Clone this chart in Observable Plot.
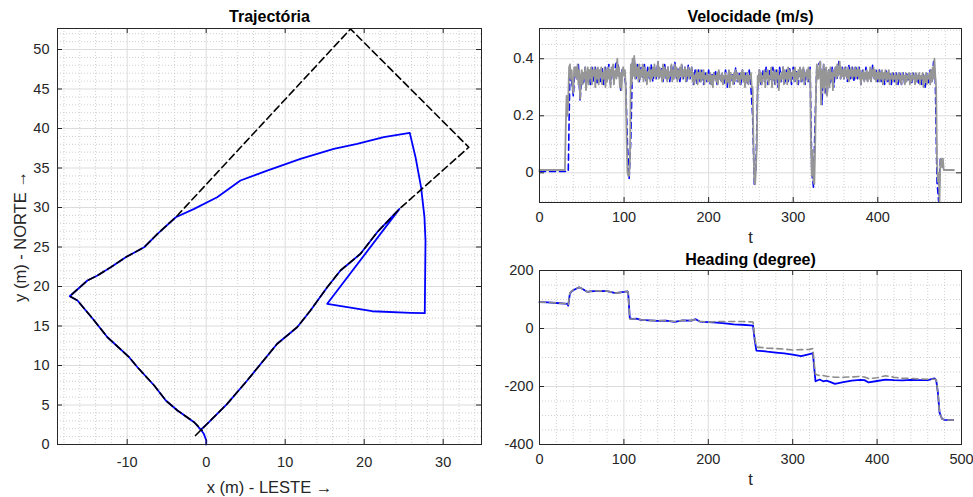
<!DOCTYPE html>
<html><head><meta charset="utf-8">
<script src="https://cdn.jsdelivr.net/npm/d3@7"></script>
<script src="https://cdn.jsdelivr.net/npm/@observablehq/plot@0.6"></script>
<style>
html,body{margin:0;padding:0;background:#fff;}
#wrap{position:relative;width:973px;height:497px;background:#fff;overflow:hidden;}
#wrap svg{position:absolute;}
</style></head>
<body><div id="wrap"></div>
<script>
// ---------- Trajectory (m) ----------
const trajBlueX = [0,0.02,-0.3,-0.72,-1.52,-3.63,-5.11,-6.58,-8.7,-9.75,-12.5,-14.18,-16.29,-17.27,-15.03,-13.76,-12.07,-10.18,-7.85,-6.16,-3.85,-1.52,1.39,4.34,7.72,11.94,16.15,19.11,22.48,25.77,26.5,27.2,27.63,27.76,27.67,25.86,21.01,15.32,24.47,21.65,19.53,17.0,15.32,13.2,11.52,8.99,5.19,2.66,0.13,-0.72];
const trajBlueY = [0,0.5,1.35,1.92,2.82,4.3,5.57,7.47,9.78,11.05,13.58,15.7,18.23,18.77,20.76,21.39,22.45,23.71,24.97,26.67,28.77,29.83,31.3,33.42,34.68,36.16,37.43,38.06,38.9,39.45,36.37,32.57,28.77,25.82,16.62,16.67,16.87,17.81,29.83,26.87,24.14,22.03,19.91,16.96,14.85,12.75,8.1,5.15,2.62,1.86];
const trajRefX = [-1.35,0.13,2.66,5.19,8.99,11.52,13.2,15.32,17.0,19.53,21.65,24.47,33.24,18.27,-3.85,-6.16,-7.85,-10.18,-12.07,-13.76,-15.03,-17.27,-16.29,-14.18,-12.5,-9.75,-8.7,-6.58,-5.11,-3.63,-1.52,-0.5];
const trajRefY = [1.14,2.62,5.15,8.1,12.75,14.85,16.96,19.91,22.03,24.14,26.87,29.83,37.63,52.6,28.77,26.67,24.97,23.71,22.45,21.39,20.76,18.77,18.23,15.7,13.58,11.05,9.78,7.47,5.57,4.3,2.82,1.8];

// ---------- Velocity (m/s) ----------
const velGrayStep = 1; // s
const velGray = [
.01,.01,.01,.01,.01,.01,.01,.01,.01,.01,
.01,.01,.01,.01,.01,.01,.01,.01,.01,.01,
.01,.01,.01,.01,.01,.01,.01,.01,.01,.01,
.01,.15,.27,.20,.26,.37,.38,.33,.36,.30,
.28,.37,.34,.37,.33,.38,.31,.36,.26,.33,
.36,.31,.35,.33,.37,.29,.34,.37,.31,.36,
.33,.37,.31,.36,.34,.37,.30,.36,.33,.37,
.31,.36,.34,.37,.31,.35,.33,.37,.30,.36,
.32,.37,.33,.36,.30,.37,.34,.38,.31,.35,
.36,.33,.40,.34,.37,.30,.35,.29,.36,.37,
.34,.36,.30,.12,.00,-.01,-.01,.05,.38,.31,
.40,.34,.41,.33,.38,.34,.37,.32,.38,.33,
.36,.34,.38,.32,.37,.33,.36,.31,.35,.34,
.37,.32,.36,.33,.37,.34,.38,.33,.36,.34,
.39,.33,.37,.34,.36,.32,.38,.33,.37,.34,
.36,.32,.37,.33,.35,.34,.38,.32,.36,.33,
.38,.34,.37,.32,.36,.33,.37,.34,.38,.33,
.36,.34,.37,.32,.36,.34,.37,.33,.36,.34,
.37,.32,.35,.31,.34,.33,.36,.31,.35,.33,
.36,.32,.35,.33,.36,.31,.34,.33,.35,.32,
.34,.32,.35,.31,.34,.30,.35,.33,.34,.32,
.35,.31,.36,.33,.34,.32,.35,.31,.34,.33,
.35,.31,.34,.32,.36,.30,.35,.33,.34,.31,
.35,.32,.36,.33,.35,.32,.34,.31,.35,.33,
.36,.32,.35,.30,.34,.32,.35,.31,.34,.33,
.35,.30,.30,.10,-.03,-.04,.02,.10,.34,.31,
.36,.32,.35,.31,.34,.33,.36,.30,.35,.33,
.36,.31,.34,.33,.37,.30,.35,.33,.36,.31,
.35,.33,.36,.29,.34,.32,.35,.33,.37,.31,
.36,.33,.35,.31,.37,.33,.36,.32,.35,.34,
.36,.32,.37,.33,.35,.31,.36,.34,.37,.32,
.36,.33,.37,.31,.35,.34,.36,.32,.37,.33,
.36,.10,-.01,.08,-.03,-.04,.10,.30,.38,.33,
.33,.38,.39,.24,.36,.30,.38,.28,.35,.37,
.27,.33,.36,.30,.37,.33,.35,.29,.36,.34,
.37,.33,.38,.34,.36,.39,.33,.37,.34,.36,
.33,.37,.34,.36,.33,.37,.32,.36,.34,.37,
.33,.36,.34,.37,.33,.36,.34,.37,.33,.36,
.31,.35,.33,.36,.32,.35,.33,.36,.32,.35,
.33,.37,.32,.36,.34,.37,.33,.36,.32,.35,
.33,.36,.32,.35,.33,.36,.31,.35,.33,.36,
.32,.35,.33,.36,.31,.34,.33,.35,.32,.34,
.33,.35,.31,.34,.33,.35,.32,.34,.31,.35,
.33,.34,.31,.35,.32,.34,.33,.35,.31,.34,
.32,.35,.33,.34,.31,.35,.32,.34,.33,.35,
.31,.34,.33,.35,.30,.34,.32,.35,.31,.34,
.33,.35,.31,.36,.32,.37,.33,.40,.34,.30,
.05,-.03,.00,-.10,.04,.05,.02,.05,.01,.01,
.01,.01,.01,.01,.01,.01,.01,.01,.01,.01,.01];
const velBlueStep = 2; // s
const velBlue = [
.005,.005,.005,.005,.005,.005,.005,.005,.005,.005,
.005,.005,.005,.005,.005,.005,.005,.005,.36,.32,
.27,.37,.33,.38,.25,.35,.31,.37,.32,.36,
.31,.37,.32,.37,.31,.36,.32,.37,.31,.37,
.32,.38,.31,.37,.32,.38,.39,.36,.29,.37,
.35,.31,.10,-.02,.12,.39,.40,.33,.38,.32,
.37,.33,.38,.32,.37,.33,.38,.32,.37,.33,
.39,.33,.37,.32,.38,.33,.37,.32,.38,.33,
.39,.33,.37,.32,.38,.33,.37,.32,.38,.33,
.37,.31,.36,.31,.36,.32,.36,.31,.35,.32,
.36,.31,.35,.32,.36,.31,.36,.32,.35,.31,
.36,.30,.36,.32,.35,.31,.37,.32,.35,.31,
.36,.32,.35,.31,.36,.30,.20,-.04,.02,.30,
.36,.31,.36,.32,.37,.31,.36,.32,.37,.31,
.36,.30,.37,.32,.37,.31,.36,.32,.37,.31,
.37,.32,.36,.31,.37,.32,.37,.31,.36,.32,
.37,.00,-.05,.20,.38,.38,.39,.24,.38,.29,
.27,.36,.31,.37,.30,.37,.33,.39,.33,.37,
.33,.37,.32,.38,.33,.37,.32,.37,.33,.37,
.31,.36,.32,.37,.32,.36,.32,.38,.33,.36,
.32,.36,.32,.35,.31,.36,.32,.35,.31,.35,
.32,.35,.31,.35,.31,.35,.31,.35,.32,.35,
.31,.35,.32,.35,.31,.34,.31,.35,.30,.35,
.31,.36,.32,.39,.33,-.03,-.10,.05,.04,.01,
.01,.01,.01,.01,.01,.01];

// ---------- Heading (degree) ----------
const headT    = [0,10,20,30,33,34,36,38,40,44,47,50,54,57,60,70,80,90,100,104,105,107,110,115,120,130,140,150,160,170,180,185,190,200,210,220,230,240,250,253,255,257,265,270,280,290,300,310,320,324,325,327,332,336,340,345,350,360,370,380,385,390,400,410,420,430,440,450,460,468,470,472,474,477,480,490];
const headBlue = [91,90,88,86,85,79,120,128,132,138,142,138,131,126,128,130,129,122,126,128,125,35,33,34,30,28,26,27,23,28,27,32,24,22,20,18,14,13,11,10,-40,-76,-78,-80,-83,-86,-90,-95,-88,-85,-120,-182,-176,-182,-180,-185,-191,-185,-180,-177,-178,-186,-181,-176,-178,-179,-177,-178,-178,-172,-178,-220,-290,-312,-315,-316];
const headGray = [91,90,88,86,85,81,122,129,133,138,142,138,131,126,128,130,129,122,126,128,125,33,33,34,30,28,27,27,24,28,28,31,25,22,24,24,24,24,23,22,-30,-64,-66,-68,-69,-71,-74,-73,-72,-69,-110,-158,-163,-162,-165,-166,-168,-168,-167,-165,-167,-173,-170,-163,-168,-172,-172,-174,-175,-175,-177,-220,-290,-312,-315,-316];

// ---------- ticks ----------
const trajXTicks = [-10,0,10,20,30];
const trajYTicks = [0,5,10,15,20,25,30,35,40,45,50];
const velXTicks = [0,100,200,300,400];
const velYTicks = [0,0.2,0.4];
const headXTicks = [0,100,200,300,400,500];
const headYTicks = [-400,-200,0,200];

const FONT = "'Liberation Sans', Arial, Helvetica, sans-serif";
const AX = "#262626";

function panel(o) {
  const fw = o.width - o.ml - o.mr, fh = o.height - o.mt - o.mb;
  const fmt = d => String(d);
  const marks = [
    Plot.ruleX(o.xMinor, {stroke: "#c4c4c4", strokeWidth: 0.8, strokeDasharray: "1,2"}),
    Plot.ruleY(o.yMinor, {stroke: "#c4c4c4", strokeWidth: 0.8, strokeDasharray: "1,2"}),
    Plot.ruleX(o.xTicks, {stroke: "#dcdcdc", strokeWidth: 1}),
    Plot.ruleY(o.yTicks, {stroke: "#dcdcdc", strokeWidth: 1}),
    ...o.marks,
    Plot.frame({stroke: AX, strokeWidth: 1}),
    Plot.ruleX(o.xTicks, {stroke: AX, insetTop: fh - 5}),
    Plot.ruleX(o.xTicks, {stroke: AX, insetBottom: fh - 5}),
    Plot.ruleY(o.yTicks, {stroke: AX, insetRight: fw - 5}),
    Plot.ruleY(o.yTicks, {stroke: AX, insetLeft: fw - 5}),
    Plot.axisX({ticks: o.xTicks, tickSize: 0, tickPadding: o.xPad, tickFormat: fmt, label: null}),
    Plot.axisY({ticks: o.yTicks, tickSize: 0, tickPadding: o.yPad, tickFormat: fmt, label: null}),
    Plot.text([o.title], {text: d => d, frameAnchor: "top", lineAnchor: "middle", textAnchor: "middle", dy: o.titleDy, fontWeight: "bold", fontSize: 16, fill: "#000"}),
    Plot.text([o.xLabel], {text: d => d, frameAnchor: "bottom", lineAnchor: "middle", textAnchor: "middle", dy: o.xLabelDy, fontSize: 16.5})
  ];
  if (o.yLabel) marks.push(Plot.text([o.yLabel], {text: d => d, frameAnchor: "left", lineAnchor: "middle", textAnchor: "middle", rotate: -90, dx: o.yLabelDx, fontSize: 16.5}));
  const svg = Plot.plot({
    width: o.width, height: o.height,
    marginLeft: o.ml, marginRight: o.mr, marginTop: o.mt, marginBottom: o.mb,
    x: {domain: o.xDomain}, y: {domain: o.yDomain},
    style: {fontFamily: FONT, fontSize: "14.5px", color: AX, background: "transparent", overflow: "visible"},
    marks
  });
  svg.style.left = o.left + "px";
  svg.style.top = o.top + "px";
  return svg;
}

const wrap = document.getElementById("wrap");

const trajBlue = trajBlueX.map((x, i) => ({x, y: trajBlueY[i]}));
const trajRef = trajRefX.map((x, i) => ({x, y: trajRefY[i]}));

wrap.appendChild(panel({
  left: 0, top: 0, width: 490, height: 497, ml: 57, mr: 9, mt: 28, mb: 53,
  xDomain: [-18.82, 34.85], yDomain: [0, 52.66],
  xTicks: trajXTicks, yTicks: trajYTicks,
  xMinor: d3.range(-18, 35, 2).filter(v => v % 10 !== 0),
  yMinor: d3.range(1, 53, 1).filter(v => v % 5 !== 0),
  xPad: 12, yPad: 8, title: "Trajectória", titleDy: -12,
  xLabel: "x (m) - LESTE →", xLabelDy: 43,
  yLabel: "y (m) - NORTE →", yLabelDx: -37,
  marks: [
    Plot.line(trajBlue, {x: "x", y: "y", stroke: "#0000ff", strokeWidth: 1.8, curve: "linear"}),
    Plot.line(trajRef, {x: "x", y: "y", stroke: "#000", strokeWidth: 1.6, strokeDasharray: "7,4"})
  ]
}));

wrap.appendChild(panel({
  left: 490, top: 0, width: 483, height: 250, ml: 49, mr: 12, mt: 28, mb: 48,
  xDomain: [0, 499], yDomain: [-0.104, 0.506],
  xTicks: velXTicks, yTicks: velYTicks,
  xMinor: d3.range(20, 499, 20).filter(v => v % 100 !== 0),
  yMinor: [-0.1, -0.05, 0.05, 0.1, 0.15, 0.25, 0.3, 0.35, 0.45, 0.5],
  xPad: 9, yPad: 6, title: "Velocidade (m/s)", titleDy: -12,
  xLabel: "t", xLabelDy: 35,
  marks: [
    Plot.line(velBlue, {x: (d, i) => i * velBlueStep, y: d => d, stroke: "#0000ff", strokeWidth: 1.6, strokeDasharray: "6,4"}),
    Plot.line(velGray, {x: (d, i) => i * velGrayStep, y: d => d, stroke: "#969696", strokeWidth: 1.8})
  ]
}));

wrap.appendChild(panel({
  left: 490, top: 250, width: 483, height: 247, ml: 49, mr: 12, mt: 20, mb: 53,
  xDomain: [0, 500], yDomain: [-400, 200],
  xTicks: headXTicks, yTicks: headYTicks,
  xMinor: d3.range(20, 500, 20).filter(v => v % 100 !== 0),
  yMinor: [-350, -300, -250, -150, -100, -50, 50, 100, 150],
  xPad: 9, yPad: 6, title: "Heading (degree)", titleDy: -11,
  xLabel: "t", xLabelDy: 35,
  marks: [
    Plot.line(headT, {x: (d) => d, y: (d, i) => headBlue[i], stroke: "#0000ff", strokeWidth: 1.8}),
    Plot.line(headT, {x: (d) => d, y: (d, i) => headGray[i], stroke: "#8c8c8c", strokeWidth: 1.6, strokeDasharray: "6,4"})
  ]
}));
</script>
</body></html>
